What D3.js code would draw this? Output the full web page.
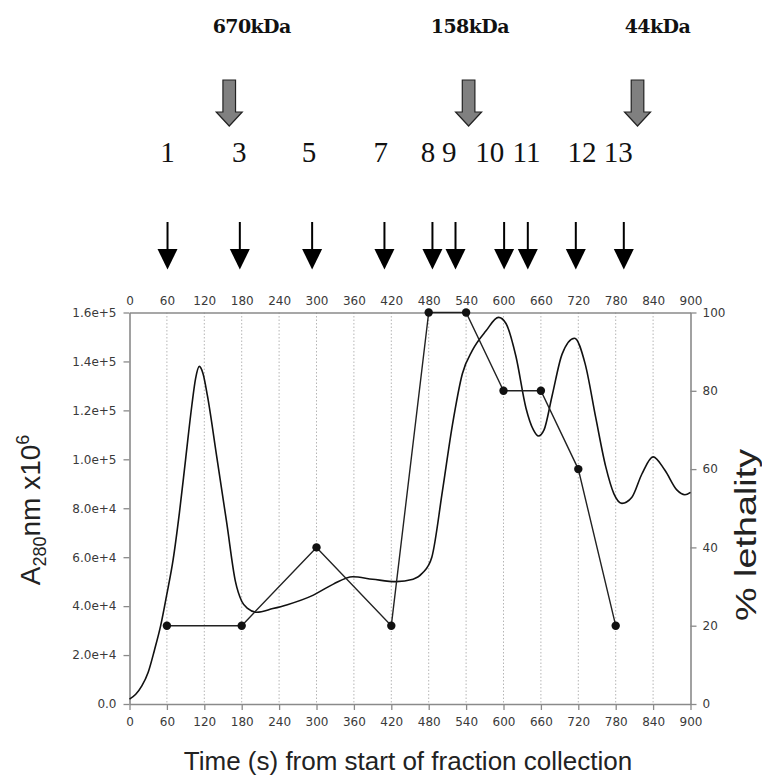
<!DOCTYPE html>
<html>
<head>
<meta charset="utf-8">
<script src="https://cdn.jsdelivr.net/npm/d3@7"></script>
<style>
  html, body { margin: 0; padding: 0; background: #fff; }
  svg { display: block; }
</style>
</head>
<body>
<svg id="chart" width="762" height="778"></svg>
<script>
// ---- Data -------------------------------------------------------------
// A280 absorbance trace (time in s, absorbance units)
const traceTime = [0, 10, 20, 30, 40, 50, 60, 70, 80, 90, 100, 106, 112, 118, 125, 140, 156, 170, 180, 190, 204, 230, 252, 295, 327, 358, 390, 428, 455, 470, 485, 502, 518, 534, 550, 572, 592, 604, 620, 636, 648, 656, 665, 678, 694, 714, 731, 748, 764, 777, 790, 806, 822, 840, 859, 878, 891, 900];
const traceA280 = [2000, 4000, 7500, 13000, 22000, 32000, 45000, 59000, 78000, 100000, 122000, 133000, 138000, 135000, 126000, 101000, 74000, 50000, 42000, 39000, 37500, 39000, 40500, 44500, 49000, 52000, 51000, 50000, 51000, 53500, 60000, 87000, 114000, 135000, 144500, 152500, 158000, 155500, 142000, 121000, 112000, 109500, 112000, 126000, 143000, 149500, 139000, 117000, 97000, 86000, 82000, 84500, 94000, 101000, 95500, 87500, 85500, 86500];

// % lethality of each tested fraction
const lethalTime = [60, 180, 300, 420, 480, 540, 600, 660, 720, 780];
const lethalPct  = [20, 20, 40, 20, 100, 100, 80, 80, 60, 20];

// Fraction collection points and their numbers
const fractionTime   = [61, 177, 293, 409, 486, 523, 601, 639, 716, 793];
const fractionLabel  = ["1", "3", "5", "7", "8", "9", "10", "11", "12", "13"];
const fractionLabelT = [61, 176, 288, 403, 479, 513, 578, 637, 726, 784];

// Molecular weight standards
const standardLabel = ["670kDa", "158kDa", "44kDa"];
const standardTextT = [196, 546, 847];
const standardArrowT = [160, 544, 815];

// Axis ticks
const timeTicks   = d3.range(0, 901, 60);
const a280Ticks   = [0, 20000, 40000, 60000, 80000, 100000, 120000, 140000, 160000];
const lethalTicks = [0, 20, 40, 60, 80, 100];

// ---- Layout -----------------------------------------------------------
const plot = { left: 129.5, right: 690.5, top: 312.5, bottom: 704 };

const svg = d3.select("#chart");

const x = d3.scaleLinear().domain([0, 900]).range([plot.left, plot.right]);
const yL = d3.scaleLinear().domain([0, 160000]).range([plot.bottom, plot.top]);
const yR = d3.scaleLinear().domain([0, 100]).range([plot.bottom, plot.top]);

const tickFont = "'DejaVu Sans', Verdana, sans-serif";
const axisGray = "#8a8a8a";

// dotted vertical grid
svg.append("g")
  .selectAll("line")
  .data(timeTicks.filter(t => t > 0 && t < 900))
  .join("line")
  .attr("x1", d => x(d)).attr("x2", d => x(d))
  .attr("y1", plot.top).attr("y2", plot.bottom)
  .attr("stroke", "#b5b5b5")
  .attr("stroke-width", 1)
  .attr("stroke-dasharray", "1.5,2");

function styleAxis(g) {
  g.select(".domain").attr("stroke", axisGray).attr("stroke-width", 1.6);
  g.selectAll(".tick line").attr("stroke", axisGray).attr("stroke-width", 1.3);
  g.selectAll(".tick text")
    .attr("fill", "#3a3a3a")
    .style("font-family", tickFont)
    .style("font-size", "12px");
}

// bottom axis
svg.append("g")
  .attr("transform", `translate(0,${plot.bottom})`)
  .call(d3.axisBottom(x).tickValues(timeTicks).tickSize(6).tickPadding(7).tickSizeOuter(0))
  .call(styleAxis);

// top axis
svg.append("g")
  .attr("transform", `translate(0,${plot.top})`)
  .call(d3.axisTop(x).tickValues(timeTicks).tickSize(0).tickPadding(8).tickSizeOuter(0))
  .call(styleAxis);

// left axis
const fmtA = d => d === 0 ? "0.0" : d3.format(".1e")(d);
svg.append("g")
  .attr("transform", `translate(${plot.left},0)`)
  .call(d3.axisLeft(yL).tickValues(a280Ticks).tickFormat(fmtA).tickSize(6).tickPadding(7).tickSizeOuter(0))
  .call(styleAxis);

// right axis
svg.append("g")
  .attr("transform", `translate(${plot.right},0)`)
  .call(d3.axisRight(yR).tickValues(lethalTicks).tickSize(6).tickPadding(6).tickSizeOuter(0))
  .call(styleAxis);

// A280 trace
const trace = traceTime.map((t, i) => [t, traceA280[i]]);
svg.append("path")
  .datum(trace)
  .attr("fill", "none")
  .attr("stroke", "#111")
  .attr("stroke-width", 1.6)
  .attr("d", d3.line().x(d => x(d[0])).y(d => yL(d[1])).curve(d3.curveMonotoneX));

// lethality line + markers
const lethal = lethalTime.map((t, i) => [t, lethalPct[i]]);
svg.append("path")
  .datum(lethal)
  .attr("fill", "none")
  .attr("stroke", "#222")
  .attr("stroke-width", 1.4)
  .attr("d", d3.line().x(d => x(d[0])).y(d => yR(d[1])));
svg.append("g")
  .selectAll("circle")
  .data(lethal)
  .join("circle")
  .attr("cx", d => x(d[0]))
  .attr("cy", d => yR(d[1]))
  .attr("r", 4.2)
  .attr("fill", "#111");

// axis titles
const titleFont = "'Liberation Sans', Arial, sans-serif";
svg.append("text")
  .attr("x", (plot.left + plot.right) / 2 - 2)
  .attr("y", 770)
  .attr("text-anchor", "middle")
  .style("font-family", titleFont)
  .style("font-size", "26px")
  .attr("fill", "#222")
  .text("Time (s) from start of fraction collection");

const yTitle = svg.append("text")
  .attr("transform", `translate(40,510) rotate(-90)`)
  .attr("text-anchor", "middle")
  .style("font-family", titleFont)
  .style("font-size", "28px")
  .attr("fill", "#222");
yTitle.append("tspan").text("A");
yTitle.append("tspan").attr("dy", 6).style("font-size", "18px").text("280");
yTitle.append("tspan").attr("dy", -6).text("nm x10");
yTitle.append("tspan").attr("dy", -11).style("font-size", "18px").text("6");

svg.append("text")
  .attr("transform", `translate(756,535) rotate(-90)`)
  .attr("text-anchor", "middle")
  .attr("textLength", 172)
  .attr("lengthAdjust", "spacingAndGlyphs")
  .style("font-family", titleFont)
  .style("font-size", "29px")
  .attr("fill", "#222")
  .text("% lethality");

// fraction arrows
const arrowG = svg.append("g");
fractionTime.forEach(t => {
  const cx = x(t);
  arrowG.append("line")
    .attr("x1", cx).attr("x2", cx)
    .attr("y1", 222).attr("y2", 252)
    .attr("stroke", "#000").attr("stroke-width", 2);
  arrowG.append("path")
    .attr("d", `M${cx - 10},249 L${cx + 10},249 L${cx},269.5 Z`)
    .attr("fill", "#000");
});

// fraction numbers
svg.append("g")
  .selectAll("text")
  .data(fractionLabel)
  .join("text")
  .attr("x", (d, i) => x(fractionLabelT[i]))
  .attr("y", 162)
  .attr("text-anchor", "middle")
  .style("font-family", "'Liberation Serif', 'Times New Roman', serif")
  .style("font-size", "29px")
  .attr("fill", "#111")
  .text(d => d);

// molecular weight standards
svg.append("g")
  .selectAll("text")
  .data(standardLabel)
  .join("text")
  .attr("x", (d, i) => x(standardTextT[i]))
  .attr("y", 33)
  .attr("text-anchor", "middle")
  .style("font-family", "'DejaVu Serif', serif")
  .style("font-weight", "bold")
  .style("font-size", "19px")
  .style("letter-spacing", "-0.6px")
  .attr("fill", "#111")
  .text(d => d);

svg.append("g")
  .selectAll("path")
  .data(standardArrowT)
  .join("path")
  .attr("d", t => {
    const c = x(t);
    return `M${c - 6.3},80 L${c + 6.3},80 L${c + 6.3},112 L${c + 13},112 L${c},126 L${c - 13},112 L${c - 6.3},112 Z`;
  })
  .attr("fill", "#808080")
  .attr("stroke", "#222")
  .attr("stroke-width", 1.2)
  .attr("stroke-linejoin", "miter");
</script>
</body>
</html>
